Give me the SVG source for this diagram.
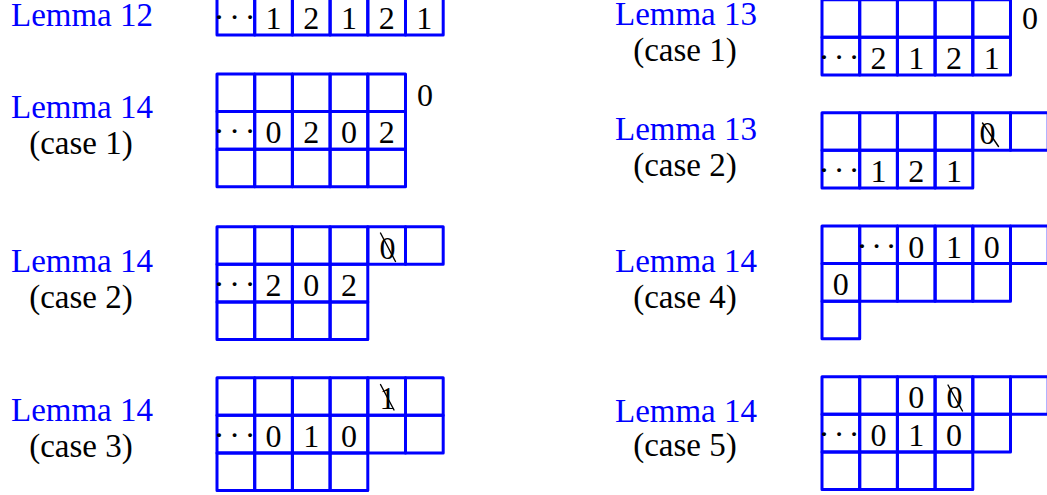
<svg xmlns="http://www.w3.org/2000/svg" width="1047" height="495" viewBox="0 0 1047 495">
<style>
.c{fill:none;stroke:#0000ff;stroke-width:3;stroke-linejoin:round;stroke-linecap:round}
.lab{font-family:"Liberation Serif","Times New Roman",serif;font-size:33px;fill:#0000ff;text-anchor:middle}
.cs{font-family:"Liberation Serif","Times New Roman",serif;font-size:33px;fill:#000;text-anchor:middle}
.d{font-family:"Liberation Serif","Times New Roman",serif;font-size:32px;fill:#000;text-anchor:middle}
.dots{font-family:"Liberation Serif","Times New Roman",serif;font-size:32px;fill:#000;text-anchor:middle}
.x{stroke:#000;stroke-width:1.4;stroke-linecap:round}
</style>
<defs>
<rect id="cell" class="c" width="37.7" height="37.6"/>
</defs>

<g id="lemma12">
<text class="lab" x="82" y="26">Lemma 12</text>
<use href="#cell" x="217" y="-2.5"/><use href="#cell" x="254.7" y="-2.5"/><use href="#cell" x="292.4" y="-2.5"/><use href="#cell" x="330.1" y="-2.5"/><use href="#cell" x="367.8" y="-2.5"/><use href="#cell" x="405.5" y="-2.5"/>
<text class="dots" x="219 234.5 250" y="28.3">···</text>
<text class="d" x="273.55" y="29.1">1</text><text class="d" x="311.25" y="29.1">2</text><text class="d" x="348.95" y="29.1">1</text><text class="d" x="386.65" y="29.1">2</text><text class="d" x="424.35" y="29.1">1</text>
</g>

<g id="lemma14-case1">
<text class="lab" x="82" y="118">Lemma 14</text>
<text class="cs" x="81" y="154">(case 1)</text>
<use href="#cell" x="217" y="74"/><use href="#cell" x="254.7" y="74"/><use href="#cell" x="292.4" y="74"/><use href="#cell" x="330.1" y="74"/><use href="#cell" x="367.8" y="74"/>
<use href="#cell" x="217" y="111.6"/><use href="#cell" x="254.7" y="111.6"/><use href="#cell" x="292.4" y="111.6"/><use href="#cell" x="330.1" y="111.6"/><use href="#cell" x="367.8" y="111.6"/>
<use href="#cell" x="217" y="149.2"/><use href="#cell" x="254.7" y="149.2"/><use href="#cell" x="292.4" y="149.2"/><use href="#cell" x="330.1" y="149.2"/><use href="#cell" x="367.8" y="149.2"/>
<text class="d" x="425" y="105.5">0</text>
<text class="dots" x="219 234.5 250" y="142.4">···</text>
<text class="d" x="273.55" y="143.2">0</text><text class="d" x="311.25" y="143.2">2</text><text class="d" x="348.95" y="143.2">0</text><text class="d" x="386.65" y="143.2">2</text>
</g>

<g id="lemma14-case2">
<text class="lab" x="82" y="272">Lemma 14</text>
<text class="cs" x="81" y="308">(case 2)</text>
<use href="#cell" x="217" y="226.7"/><use href="#cell" x="254.7" y="226.7"/><use href="#cell" x="292.4" y="226.7"/><use href="#cell" x="330.1" y="226.7"/><use href="#cell" x="367.8" y="226.7"/><use href="#cell" x="405.5" y="226.7"/>
<use href="#cell" x="217" y="264.3"/><use href="#cell" x="254.7" y="264.3"/><use href="#cell" x="292.4" y="264.3"/><use href="#cell" x="330.1" y="264.3"/>
<use href="#cell" x="217" y="301.9"/><use href="#cell" x="254.7" y="301.9"/><use href="#cell" x="292.4" y="301.9"/><use href="#cell" x="330.1" y="301.9"/>
<text class="d" x="387.5" y="258.5">0</text><line class="x" x1="380.5" y1="233" x2="395.5" y2="261.5"/>
<text class="dots" x="219 234.5 250" y="295.1">···</text>
<text class="d" x="273.55" y="295.9">2</text><text class="d" x="311.25" y="295.9">0</text><text class="d" x="348.95" y="295.9">2</text>
</g>

<g id="lemma14-case3">
<text class="lab" x="82" y="421">Lemma 14</text>
<text class="cs" x="81" y="457">(case 3)</text>
<use href="#cell" x="217" y="377.7"/><use href="#cell" x="254.7" y="377.7"/><use href="#cell" x="292.4" y="377.7"/><use href="#cell" x="330.1" y="377.7"/><use href="#cell" x="367.8" y="377.7"/><use href="#cell" x="405.5" y="377.7"/>
<use href="#cell" x="217" y="415.3"/><use href="#cell" x="254.7" y="415.3"/><use href="#cell" x="292.4" y="415.3"/><use href="#cell" x="330.1" y="415.3"/><use href="#cell" x="367.8" y="415.3"/><use href="#cell" x="405.5" y="415.3"/>
<use href="#cell" x="217" y="452.9"/><use href="#cell" x="254.7" y="452.9"/><use href="#cell" x="292.4" y="452.9"/><use href="#cell" x="330.1" y="452.9"/>
<text class="d" x="387.5" y="409.3">1</text><line class="x" x1="380.5" y1="384.5" x2="394" y2="410"/>
<text class="dots" x="219 234.5 250" y="446.1">···</text>
<text class="d" x="273.55" y="446.9">0</text><text class="d" x="311.25" y="446.9">1</text><text class="d" x="348.95" y="446.9">0</text>
</g>

<g id="lemma13-case1">
<text class="lab" x="686" y="25">Lemma 13</text>
<text class="cs" x="685" y="61">(case 1)</text>
<use href="#cell" x="822" y="-0.3"/><use href="#cell" x="859.7" y="-0.3"/><use href="#cell" x="897.4" y="-0.3"/><use href="#cell" x="935.1" y="-0.3"/><use href="#cell" x="972.8" y="-0.3"/>
<use href="#cell" x="822" y="37.3"/><use href="#cell" x="859.7" y="37.3"/><use href="#cell" x="897.4" y="37.3"/><use href="#cell" x="935.1" y="37.3"/><use href="#cell" x="972.8" y="37.3"/>
<text class="d" x="1030" y="29">0</text>
<text class="dots" x="824 839 854" y="68.1">···</text>
<text class="d" x="878.55" y="68.9">2</text><text class="d" x="916.25" y="68.9">1</text><text class="d" x="953.95" y="68.9">2</text><text class="d" x="991.65" y="68.9">1</text>
</g>

<g id="lemma13-case2">
<text class="lab" x="686" y="140">Lemma 13</text>
<text class="cs" x="685" y="176">(case 2)</text>
<use href="#cell" x="822" y="112.7"/><use href="#cell" x="859.7" y="112.7"/><use href="#cell" x="897.4" y="112.7"/><use href="#cell" x="935.1" y="112.7"/><use href="#cell" x="972.8" y="112.7"/><use href="#cell" x="1010.5" y="112.7"/>
<use href="#cell" x="822" y="150.3"/><use href="#cell" x="859.7" y="150.3"/><use href="#cell" x="897.4" y="150.3"/><use href="#cell" x="935.1" y="150.3"/>
<text class="d" x="987.5" y="144.3">0</text><line class="x" x1="982.5" y1="123" x2="998.5" y2="146.5"/>
<text class="dots" x="824 839 854" y="181.1">···</text>
<text class="d" x="878.55" y="181.9">1</text><text class="d" x="916.25" y="181.9">2</text><text class="d" x="953.95" y="181.9">1</text>
</g>

<g id="lemma14-case4">
<text class="lab" x="686" y="272">Lemma 14</text>
<text class="cs" x="685" y="308">(case 4)</text>
<use href="#cell" x="822" y="226"/><use href="#cell" x="859.7" y="226"/><use href="#cell" x="897.4" y="226"/><use href="#cell" x="935.1" y="226"/><use href="#cell" x="972.8" y="226"/><use href="#cell" x="1010.5" y="226"/>
<use href="#cell" x="822" y="263.6"/><use href="#cell" x="859.7" y="263.6"/><use href="#cell" x="897.4" y="263.6"/><use href="#cell" x="935.1" y="263.6"/><use href="#cell" x="972.8" y="263.6"/>
<use href="#cell" x="822" y="301.2"/>
<text class="dots" x="862 876.5 891" y="256.8">···</text>
<text class="d" x="916.25" y="257.6">0</text><text class="d" x="953.95" y="257.6">1</text><text class="d" x="991.65" y="257.6">0</text>
<text class="d" x="840.85" y="295.2">0</text>
</g>

<g id="lemma14-case5">
<text class="lab" x="686" y="421.7">Lemma 14</text>
<text class="cs" x="685" y="456">(case 5)</text>
<use href="#cell" x="822" y="376.7"/><use href="#cell" x="859.7" y="376.7"/><use href="#cell" x="897.4" y="376.7"/><use href="#cell" x="935.1" y="376.7"/><use href="#cell" x="972.8" y="376.7"/><use href="#cell" x="1010.5" y="376.7"/>
<use href="#cell" x="822" y="414.3"/><use href="#cell" x="859.7" y="414.3"/><use href="#cell" x="897.4" y="414.3"/><use href="#cell" x="935.1" y="414.3"/><use href="#cell" x="972.8" y="414.3"/>
<use href="#cell" x="822" y="451.9"/><use href="#cell" x="859.7" y="451.9"/><use href="#cell" x="897.4" y="451.9"/><use href="#cell" x="935.1" y="451.9"/>
<text class="d" x="916.25" y="408.3">0</text>
<text class="d" x="954.5" y="408.3">0</text><line class="x" x1="948" y1="385" x2="962.5" y2="411"/>
<text class="dots" x="824 839 854" y="445.2">···</text>
<text class="d" x="878.55" y="446">0</text><text class="d" x="916.25" y="446">1</text><text class="d" x="953.95" y="446">0</text>
</g>
</svg>
